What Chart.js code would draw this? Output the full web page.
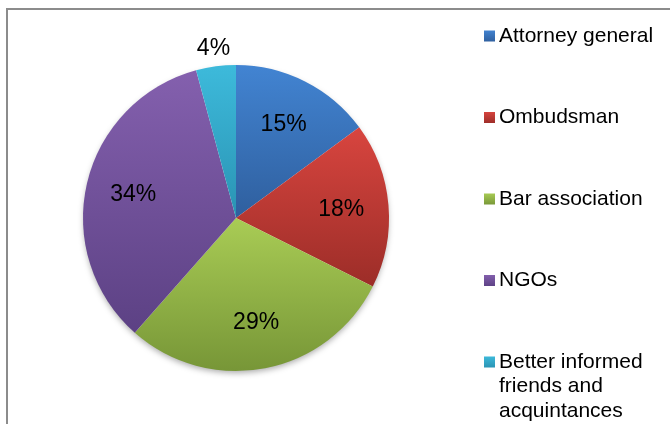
<!DOCTYPE html>
<html>
<head>
<meta charset="utf-8">
<script src="https://cdn.jsdelivr.net/npm/chart.js@4/dist/chart.umd.min.js"></script>
<style>
  html, body { margin: 0; padding: 0; background: #fff; }
  #wrap { width: 670px; height: 424px; position: relative; }
</style>
</head>
<body>
<div id="wrap"><canvas id="canvas"></canvas></div>
<script>
var labels = ['Attorney general', 'Ombudsman', 'Bar association', 'NGOs', ['Better informed', 'friends and', 'acquintances']];
var values = [14.9, 17.5, 29.1, 34.3, 4.2];
var lightColors = ['#4284d2', '#d8453f', '#a9cc55', '#8460ae', '#3dbadb'];
var darkColors = ['#2f5f9e', '#9c2d28', '#779637', '#5c4184', '#2a93b3'];

var canvas = document.getElementById('canvas');
var ctx = canvas.getContext('2d');

var total = values.reduce(function (a, b) { return a + b; }, 0);

// vertical gradient over each slice's own extent, like the office look
function sliceFill(c) {
  var chart = c.chart;
  var area = chart.chartArea;
  var i = c.dataIndex;
  if (!area) return lightColors[i];
  var cx = (area.left + area.right) / 2;
  var cy = (area.top + area.bottom) / 2;
  var r = Math.min(area.right - area.left, area.bottom - area.top) / 2;
  var before = 0;
  for (var k = 0; k < i; k++) before += values[k];
  var a0 = -Math.PI / 2 + before / total * Math.PI * 2;
  var a1 = a0 + values[i] / total * Math.PI * 2;
  var ys = [cy, cy + r * Math.sin(a0), cy + r * Math.sin(a1)];
  [Math.PI / 2, Math.PI * 1.5, -Math.PI / 2].forEach(function (a) {
    if (a > a0 && a < a1) ys.push(cy + r * Math.sin(a));
  });
  var y0 = Math.min.apply(null, ys), y1 = Math.max.apply(null, ys);
  var g = chart.ctx.createLinearGradient(0, y0, 0, y1);
  g.addColorStop(0, lightColors[i]);
  g.addColorStop(1, darkColors[i]);
  return g;
}

var decor = {
  id: 'decor',
  beforeDraw: function (chart) {
    var c = chart.ctx;
    c.save();
    c.strokeStyle = '#8c8c8c';
    c.lineWidth = 2;
    c.beginPath();
    c.moveTo(7, 440);
    c.lineTo(7, 9);
    c.lineTo(680, 9);
    c.stroke();
    c.restore();
  },
  beforeDatasetsDraw: function (chart) {
    var arc = chart.getDatasetMeta(0).data[0];
    var c = chart.ctx;
    c.save();
    c.shadowColor = 'rgba(0,0,0,0.35)';
    c.shadowBlur = 6;
    c.shadowOffsetY = 3;
    c.fillStyle = '#fff';
    c.beginPath();
    c.arc(arc.x, arc.y, arc.outerRadius - 1, 0, Math.PI * 2);
    c.fill();
    c.restore();
  },
  afterDatasetsDraw: function (chart) {
    var c = chart.ctx;
    var meta = chart.getDatasetMeta(0);
    c.save();
    c.fillStyle = '#000';
    c.font = '23px "Liberation Sans", Arial, sans-serif';
    c.textAlign = 'center';
    c.textBaseline = 'middle';
    meta.data.forEach(function (arc, i) {
      var mid = (arc.startAngle + arc.endAngle) / 2;
      var pct = values[i] / total * 100;
      var rr = pct < 8 ? arc.outerRadius * 1.12 : arc.outerRadius * 0.69;
      c.fillText(Math.round(pct) + '%', arc.x + Math.cos(mid) * rr, arc.y + Math.sin(mid) * rr + 1);
    });

    // legend on the right
    c.font = '21px "Liberation Sans", Arial, sans-serif';
    c.textAlign = 'left';
    var lx = 484, ly = 36, step = 81.5;
    labels.forEach(function (lab, i) {
      var y = ly + i * step;
      var g = c.createLinearGradient(0, y - 6, 0, y + 6);
      g.addColorStop(0, lightColors[i]);
      g.addColorStop(1, darkColors[i]);
      c.fillStyle = g;
      c.fillRect(lx, y - 5.5, 11, 11);
      c.fillStyle = '#000';
      var lines = Array.isArray(lab) ? lab : [lab];
      lines.forEach(function (t, j) {
        c.fillText(t, lx + 15, y + j * 24.5);
      });
    });
    c.restore();
  }
};

var chart = new Chart(ctx, {
  type: 'pie',
  data: {
    labels: labels,
    datasets: [{
      data: values,
      backgroundColor: sliceFill,
      borderWidth: 0
    }]
  },
  options: {
    responsive: true,
    maintainAspectRatio: false,
    animation: false,
    layout: { padding: { left: 83, right: 281, top: 65, bottom: 53 } },
    plugins: {
      legend: { display: false },
      tooltip: { enabled: false }
    }
  },
  plugins: [decor]
});
</script>
</body>
</html>
